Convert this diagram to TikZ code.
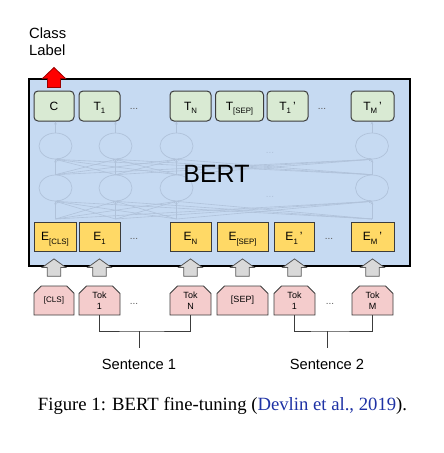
\documentclass[tikz,border=0pt]{standalone}
\usepackage{fontspec}
\setmainfont{Liberation Sans}
\newfontfamily\capfont{Liberation Serif}
\usetikzlibrary{shapes.misc,shapes.geometric,arrows.meta,calc}
\definecolor{bertblue}{RGB}{198,218,242}
\definecolor{tgreen}{RGB}{217,234,211}
\definecolor{eyellow}{RGB}{255,217,102}
\definecolor{tokpink}{RGB}{244,204,204}
\definecolor{edgegray}{RGB}{60,60,60}
\definecolor{netcol}{RGB}{176,194,218}
\definecolor{arrgray}{RGB}{217,217,217}
\definecolor{arredge}{RGB}{89,89,89}
\definecolor{citeblue}{RGB}{30,50,165}
\definecolor{dotgray}{RGB}{90,90,90}
\newcommand\mysub[1]{\raisebox{-3.5pt}[0pt][0pt]{\fontsize{7.8}{8}\selectfont #1}}
\begin{document}
\begin{tikzpicture}[x=1pt,y=-1pt,
  tbox/.style={draw=edgegray,line width=1pt,fill=tgreen,rounded corners=4pt,minimum height=30pt,inner sep=0pt,font=\fontsize{12}{14}\selectfont},
  ebox/.style={draw=edgegray,line width=0.9pt,fill=eyellow,minimum height=29pt,inner sep=0pt,font=\fontsize{12}{14}\selectfont},
  tokbox/.style={chamfered rectangle,chamfered rectangle corners={north west,north east},chamfered rectangle xsep=4pt,draw=edgegray,line width=0.8pt,fill=tokpink,minimum height=29pt,inner sep=0pt,align=center,font=\fontsize{9}{11}\selectfont},
  netell/.style={ellipse,draw=netcol,line width=0.7pt,minimum width=33pt,minimum height=26pt,inner sep=0pt},
  netline/.style={draw=netcol,line width=0.6pt,-{Stealth[length=3pt,width=2.6pt]}},
  dotsnode/.style={text=dotgray,font=\fontsize{10}{12}\selectfont,inner sep=0pt},
  garrow/.style={draw=arredge,line width=0.8pt,fill=arrgray,line join=miter},
  rarrow/.style={draw=red!60!black,line width=0.8pt,fill=red,line join=miter},
  bracket/.style={draw=edgegray,line width=0.8pt}]
\useasboundingbox (0,0) rectangle (444,453);

% BERT container
\node[draw=black,line width=2pt,fill=bertblue,minimum width=381pt,minimum height=187pt,inner sep=0pt] (bert) at (219.5,172.5) {};

% faint network
\foreach \i/\x in {1/55.5,2/115.5,3/176.5,4/372}{
  \node[netell] (a\i) at (\x,146) {};
  \node[netell] (b\i) at (\x,188) {};
  \coordinate (in\i) at (\x,219);
}
\foreach \i in {1,...,4}{
  \foreach \j in {1,...,4}{
    \draw[netline] (b\i.north) -- (a\j.south);
    \draw[netline] (in\i) -- (b\j.south);
  }
}
\node[dotsnode,text=netcol] (nd1) at (270,153) {...};
\node[dotsnode,text=netcol] (nd2) at (270,197) {...};

\node[font=\fontsize{25}{30}\selectfont,inner sep=0pt] (bertlbl) at (216.5,174) {BERT};

% output boxes
\node[tbox,minimum width=40pt] (tC) at (54,106) {C};
\node[tbox,minimum width=41pt] (tT1) at (99.5,106) {T\mysub{1}};
\node[tbox,minimum width=41pt] (tTN) at (190.5,106) {T\mysub{N}};
\node[tbox,minimum width=48pt] (tTS) at (239.5,106) {T\mysub{[SEP]}};
\node[tbox,minimum width=41pt] (tT1b) at (287.5,106) {T\mysub{1}\,’};
\node[tbox,minimum width=43pt] (tTM) at (372.5,106) {T\mysub{M}\,’};
\node[dotsnode] (td1) at (134,109) {...};
\node[dotsnode] (td2) at (322,109) {...};

\foreach \i/\t in {1/tC,2/tT1,3/tTN,4/tTM}{
  \draw[netline] (a\i.north) -- (a\i.north |- \t.south);
}

% embedding boxes
\node[ebox,minimum width=42pt] (eC) at (55,236.5) {E\mysub{[CLS]}};
\node[ebox,minimum width=41pt] (eE1) at (99.5,236.5) {E\mysub{1}};
\node[ebox,minimum width=41pt] (eEN) at (190.5,236.5) {E\mysub{N}};
\node[ebox,minimum width=51pt] (eES) at (242.5,236.5) {E\mysub{[SEP]}};
\node[ebox,minimum width=40pt] (eE1b) at (294,236.5) {E\mysub{1}\,’};
\node[ebox,minimum width=43pt] (eEM) at (372.5,236.5) {E\mysub{M}\,’};
\node[dotsnode] (ed1) at (134,239) {...};
\node[dotsnode] (ed2) at (329,239) {...};

% token boxes
\node[tokbox,minimum width=40pt,font=\fontsize{8}{10}\selectfont] (kC) at (54,300.5) {[CLS]};
\node[tokbox,minimum width=41pt] (k1) at (99.5,300.5) {Tok\\1};
\node[tokbox,minimum width=41pt] (kN) at (190.5,300.5) {Tok\\N};
\node[tokbox,minimum width=51pt] (kS) at (242.5,300.5) {[SEP]};
\node[tokbox,minimum width=41pt] (k1b) at (294.5,300.5) {Tok\\1};
\node[tokbox,minimum width=41pt] (kM) at (372.5,300.5) {Tok\\M};
\node[dotsnode] (kd1) at (134,304) {...};
\node[dotsnode] (kd2) at (330,304) {...};

% gray block arrows token -> embedding
\foreach \t in {kC,k1,kN,kS,k1b,kM}{
  \draw[garrow] ([shift={(-6.7,-9.3)}]\t.north) -- ([shift={(-6.7,-18.2)}]\t.north)
    -- ([shift={(-11.7,-18.2)}]\t.north) -- ([shift={(0,-26.7)}]\t.north)
    -- ([shift={(11.7,-18.2)}]\t.north) -- ([shift={(6.7,-18.2)}]\t.north)
    -- ([shift={(6.7,-9.3)}]\t.north) -- cycle;
}

% class label and red arrow
\node[anchor=base west,align=left,inner sep=0pt,font=\fontsize{14.8}{17}\selectfont] (cls) at (29,55) {Class\\Label};
\draw[rarrow] ([shift={(-6.5,-3)}]tC.north) -- ([shift={(-6.5,-12)}]tC.north)
    -- ([shift={(-11.5,-12)}]tC.north) -- ([shift={(0,-23)}]tC.north)
    -- ([shift={(11.5,-12)}]tC.north) -- ([shift={(6.5,-12)}]tC.north)
    -- ([shift={(6.5,-3)}]tC.north) -- cycle;

% sentence brackets
\coordinate (b1) at (139,331);
\coordinate (b2) at (327,331);
\node[anchor=base,inner sep=0pt,font=\fontsize{14.7}{17}\selectfont] (s1) at (139,369) {Sentence 1};
\node[anchor=base,inner sep=0pt,font=\fontsize{14.7}{17}\selectfont] (s2) at (327,369) {Sentence 2};
\draw[bracket] (k1.south) |- (b1) -| (kN.south);
\draw[bracket] (k1b.south) |- (b2) -| (kM.south);
\draw[bracket,shorten >=11pt] (b1) -- (s1.north);
\draw[bracket,shorten >=11pt] (b2) -- (s2.north);

% caption
\node[anchor=base,inner sep=0pt,font=\capfont\fontsize{18.7}{22}\selectfont] (cap) at (222.5,410.5) {Figure 1: BERT fine-tuning (\textcolor{citeblue}{Devlin et al., 2019}).};
\end{tikzpicture}
\end{document}
